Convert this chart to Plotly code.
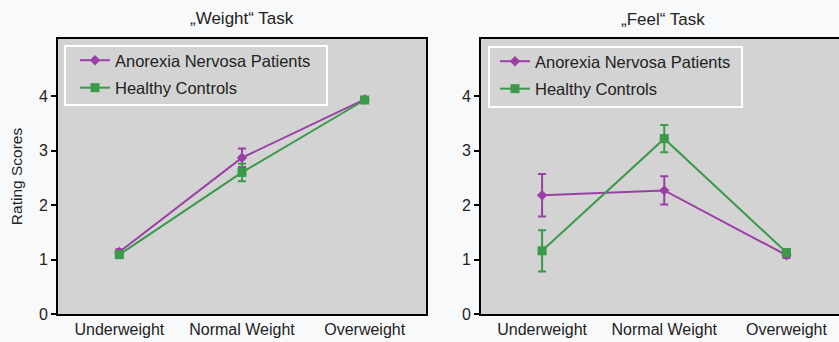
import plotly.graph_objects as go

categories = ["Underweight", "Normal Weight", "Overweight"]

# "Weight" task
weight_an = [1.14, 2.87, 3.94]
weight_an_err = [0.05, 0.17, 0.04]
weight_hc = [1.09, 2.60, 3.93]
weight_hc_err = [0.05, 0.16, 0.04]

# "Feel" task
feel_an = [2.18, 2.27, 1.08]
feel_an_err = [0.39, 0.26, 0.05]
feel_hc = [1.16, 3.22, 1.13]
feel_hc_err = [0.38, 0.25, 0.05]

panel_titles = ["\u201eWeight\u201c Task", "\u201eFeel\u201c Task"]
series_names = ["Anorexia Nervosa Patients", "Healthy Controls"]
y_ticks = [0, 1, 2, 3, 4]

PURPLE = "#9b3fa7"
GREEN = "#3a9a48"
FONT = "Liberation Sans, Arial, sans-serif"
TXT = "#222222"

W, H = 839, 342

fig = go.Figure()

def add_series(y, err, name, color, symbol, size, xa, ya, legend, group):
    fig.add_trace(go.Scatter(
        x=categories, y=y, name=name, mode="lines+markers",
        line=dict(color=color, width=2),
        marker=dict(color=color, symbol=symbol, size=size),
        error_y=dict(type="data", array=err, visible=True, color=color,
                     thickness=2, width=4),
        xaxis=xa, yaxis=ya, legend=legend, legendgroup=group, showlegend=True,
    ))

add_series(weight_an, weight_an_err, series_names[0], PURPLE, "diamond", 8, "x", "y", "legend", "a1")
add_series(weight_hc, weight_hc_err, series_names[1], GREEN, "square", 9, "x", "y", "legend", "b1")
add_series(feel_an, feel_an_err, series_names[0], PURPLE, "diamond", 8, "x2", "y2", "legend2", "a2")
add_series(feel_hc, feel_hc_err, series_names[1], GREEN, "square", 9, "x2", "y2", "legend2", "b2")

ydom = [(H - 314) / H, (H - 39) / H]
x1dom = [58 / W, 426 / W]
x2dom = [481 / W, 1.0]

tickfont = dict(family=FONT, size=16, color=TXT)
axis_common = dict(showgrid=False, zeroline=False, showline=True, linecolor="black",
                   linewidth=2, tickfont=tickfont, automargin=False)

legend_common = dict(xanchor="left", yanchor="top",
                     bgcolor="rgba(0,0,0,0)", borderwidth=0,
                     font=dict(family=FONT, size=16.5, color=TXT),
                     tracegroupgap=3, itemwidth=30, traceorder="grouped")

def box(x0, x1, y0, y1):
    return dict(type="rect", xref="paper", yref="paper",
                x0=x0 / W, x1=x1 / W, y0=(H - y1) / H, y1=(H - y0) / H,
                line=dict(color="white", width=2), fillcolor="rgba(0,0,0,0)",
                layer="above")

fig.update_layout(
    width=W, height=H,
    margin=dict(l=0, r=0, t=0, b=0),
    paper_bgcolor="#f8f9fa",
    plot_bgcolor="#d3d3d3",
    font=dict(family=FONT, size=16, color=TXT),
    xaxis=dict(domain=x1dom, anchor="y", type="category", range=[-0.5, 2.5],
               mirror=True, ticks="", **axis_common),
    yaxis=dict(domain=ydom, anchor="x", range=[0, 5.05], tickvals=y_ticks,
               ticks="outside", ticklen=5, tickwidth=2, tickcolor="black",
               mirror=True,
               title=dict(text="Rating Scores", font=dict(family=FONT, size=15.5, color=TXT),
                          standoff=12),
               **axis_common),
    xaxis2=dict(domain=x2dom, anchor="y2", type="category", range=[-0.5, 2.43],
                mirror=True, ticks="", **axis_common),
    yaxis2=dict(domain=ydom, anchor="x2", range=[0, 5.05], tickvals=y_ticks,
                ticks="outside", ticklen=5, tickwidth=2, tickcolor="black",
                mirror=False, **axis_common),
    legend=dict(x=75 / W, y=(H - 43) / H, **legend_common),
    legend2=dict(x=495 / W, y=(H - 44) / H, **legend_common),
    shapes=[box(65, 327, 46, 105), box(489, 742, 47, 107)],
    annotations=[
        dict(text=panel_titles[0], x=242 / W, y=(H - 18) / H, xref="paper", yref="paper",
             showarrow=False, font=dict(family=FONT, size=17, color=TXT),
             xanchor="center", yanchor="middle"),
        dict(text=panel_titles[1], x=663 / W, y=(H - 19) / H, xref="paper", yref="paper",
             showarrow=False, font=dict(family=FONT, size=17, color=TXT),
             xanchor="center", yanchor="middle"),
    ],
)

fig.write_html("out.html", config={"displayModeBar": False},
               post_script="document.body.style.margin='0';")
